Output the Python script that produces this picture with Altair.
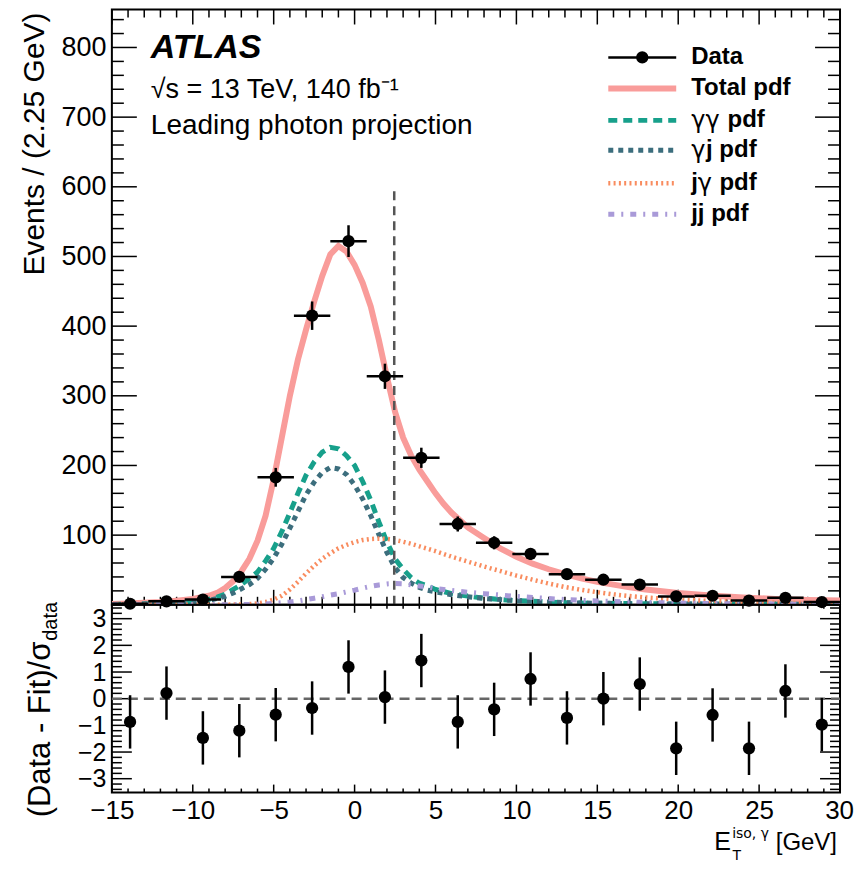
import altair as alt
import pandas as pd

# ---------------- data ----------------
BIN_CENTERS = [-13.875, -11.625, -9.375, -7.125, -4.875, -2.625, -0.375, 1.875, 4.125, 6.375,
               8.625, 10.875, 13.125, 15.375, 17.625, 19.875, 22.125, 24.375, 26.625, 28.875]
BIN_WIDTH = 2.25
DATA_EVENTS = [1.5, 5, 7.6, 40, 183, 415, 522, 328, 211, 116,
               89, 73, 44, 36, 29, 12, 13, 6, 10, 4]
DATA_ERRORS = [1.2, 2.2, 2.8, 6.3, 13.5, 20.4, 22.8, 18.1, 14.5, 10.8,
               9.4, 8.5, 6.6, 6.0, 5.4, 3.5, 3.6, 2.4, 3.2, 2.0]
PULLS = [-0.87, 0.21, -1.47, -1.2, -0.6, -0.35, 1.19, 0.06, 1.43, -0.87,
         -0.4, 0.74, -0.72, 0.0, 0.55, -1.86, -0.61, -1.86, 0.29, -0.97]
PULL_ERRORS = [1, 1, 1, 1, 1, 1, 1, 1, 1, 1, 1, 1, 1, 1, 1, 1, 1, 1, 1, 1]

CURVE_X = [-15, -14, -13, -12, -11, -10, -9,
           -8.5, -8, -7.5, -7, -6.5, -6, -5.5, -5, -4.5, -4, -3.5, -3, -2.5, -2, -1.5, -1, -0.5,
           0, 0.5, 1, 1.5, 2, 2.5, 3, 3.5, 4, 4.5, 5, 5.5, 6,
           7, 8, 9, 10, 11, 12, 13, 14, 15, 16, 17, 18,
           20, 22, 24, 26, 28, 30]
TOTAL_PDF = [1, 1.8, 2.8, 4, 6, 8.5, 13,
             17, 24, 34, 48, 66, 92, 128, 180, 240, 300, 352, 395, 435, 472, 503, 515, 507,
             488, 462, 428, 380, 327, 277, 240, 214, 194, 177, 160, 145, 132,
             111, 96, 81, 69, 59, 51, 44, 38, 33, 29, 25, 22,
             17, 13.5, 10.5, 8.5, 7, 6]
GG_PDF = [0.5, 0.8, 1.2, 2, 3, 4.5, 8,
          11, 15, 22, 29, 38, 47, 63, 81, 105, 132, 160, 186, 205, 219, 226, 224, 214,
          200, 177, 150, 119, 90, 66, 51, 39, 31, 27, 22, 19, 16,
          12.5, 9.5, 7.5, 6, 5, 4, 3, 2.5, 2.2, 2, 1.7, 1.5,
          1.2, 1, 0.8, 0.7, 0.6, 0.5]
GJ_PDF = [0.4, 0.7, 1, 1.6, 2.5, 4, 6.5,
          9, 12, 17, 23, 29, 38, 51, 67, 87, 110, 134, 158, 176, 190, 197, 195, 187,
          172, 152, 128, 101, 75, 53, 39, 31, 25, 21, 18.5, 16.5, 14.5,
          11.5, 9, 7.5, 6, 5, 4, 3.2, 2.6, 2.3, 2, 1.7, 1.5,
          1.2, 1, 0.8, 0.7, 0.6, 0.5]
JG_PDF = [0, 0, 0, 0, 0, 0, 0.1,
          0.1, 0.2, 0.3, 0.5, 1, 2, 4, 7.5, 13, 22, 33, 45, 56, 66, 74, 81, 86,
          90, 93, 94.5, 95, 94.5, 93, 90.5, 87.5, 84, 80.5, 77, 73, 69,
          62, 55, 48.5, 42, 36, 30.5, 25.5, 21.5, 18, 15, 12.5, 10.5,
          7.5, 5.5, 4.2, 3.2, 2.5, 2]
JJ_PDF = [0, 0, 0, 0, 0, 0, 0,
          0, 0, 0.1, 0.3, 0.5, 0.8, 1.3, 2, 3, 4, 5.5, 7.5, 9.5, 11.5, 14, 16, 18.5,
          21, 24, 26.5, 28.5, 30, 30.5, 30, 28.5, 27, 25.5, 23.5, 22, 20.5,
          18, 16, 14, 12, 10.5, 9, 7.5, 6.5, 5.5, 4.7, 4, 3.4,
          2.5, 1.9, 1.4, 1.1, 0.8, 0.6]

ISO_CUT = [2.45]
ISO_CUT_TOP = [600]

X_MAJOR = [-15, -10, -5, 0, 5, 10, 15, 20, 25, 30]
X_LABELS = [-15, -10, -5, 0, 5, 10, 15, 20, 25]   # the last label ("30") is drawn as text
X_LAST_LABEL = "30"
X_MINOR = [v for v in range(-15, 31) if v % 5 != 0]
Y_UP_LABELS = [100, 200, 300, 400, 500, 600, 700, 800]
Y_UP_MAJOR = [0, 100, 200, 300, 400, 500, 600, 700, 800]
Y_UP_MINOR = [v for v in range(0, 855, 20) if v % 100 != 0]
Y_LOW_MAJOR = [-3, -2, -1, 0, 1, 2, 3]
Y_LOW_MINOR = [-3.4, -3.2, -2.8, -2.6, -2.4, -2.2, -1.8, -1.6, -1.4, -1.2, -0.8, -0.6, -0.4, -0.2,
               0.2, 0.4, 0.6, 0.8, 1.2, 1.4, 1.6, 1.8, 2.2, 2.4, 2.6, 2.8, 3.2, 3.4]

# legend labels as (text, is_greek) segments
LEGEND_LABELS = [
    [("Data", False)],
    [("Total pdf", False)],
    [("γγ", True), (" pdf", False)],
    [("γ", True), ("j pdf", False)],
    [("j", False), ("γ", True), (" pdf", False)],
    [("jj pdf", False)],
]

# ---------------- styling ----------------
FONT = "Liberation Sans"
GREEK_FONT = "DejaVu Sans"
W, H_UP, H_LOW = 729, 596, 188
C_TOTAL, C_GG, C_GJ, C_JG, C_JJ = "#f99c9a", "#17a08b", "#3c6e7d", "#f98c5f", "#a99ad8"

xs = alt.Scale(domain=[-15, 30], nice=False, zero=False)
ys_up = alt.Scale(domain=[0, 854.5], nice=False, zero=False)
ys_low = alt.Scale(domain=[-3.52, 3.52], nice=False, zero=False)

common_ax = dict(labelFont=FONT, ticks=False, tickSize=0,
                 domain=False, grid=False, title=None, labelFlush=False, labelColor="black",
                 labelOverlap=False)
ax_up_y = alt.Axis(values=Y_UP_LABELS, labelFontSize=27, labelPadding=6, **common_ax)
ax_low_y = alt.Axis(values=Y_LOW_MAJOR, format="d", labelFontSize=25, labelPadding=6, **common_ax)
ax_low_x = alt.Axis(values=X_LABELS, labelFontSize=26, labelPadding=5, **common_ax)

one = pd.DataFrame({"a": [0]})

data_df = pd.DataFrame({"x": BIN_CENTERS, "y": DATA_EVENTS, "err": DATA_ERRORS})
data_df["xlo"] = data_df["x"] - BIN_WIDTH / 2
data_df["xhi"] = data_df["x"] + BIN_WIDTH / 2
data_df["ylo"] = data_df["y"] - data_df["err"]
data_df["yhi"] = data_df["y"] + data_df["err"]

pull_df = pd.DataFrame({"x": BIN_CENTERS, "p": PULLS, "e": PULL_ERRORS})
pull_df["lo"] = pull_df["p"] - pull_df["e"]
pull_df["hi"] = pull_df["p"] + pull_df["e"]

curve_df = pd.DataFrame({"x": CURVE_X, "total": TOTAL_PDF, "gg": GG_PDF, "gj": GJ_PDF,
                         "jg": JG_PDF, "jj": JJ_PDF})


def XU(field="x"):
    return alt.X(f"{field}:Q", scale=xs, axis=None)


def YU(field):
    return alt.Y(f"{field}:Q", scale=ys_up, axis=ax_up_y)


def curve(col, color, width, dash=None):
    kw = dict(color=color, strokeWidth=width, clip=True)
    if dash:
        kw["strokeDash"] = dash
    return alt.Chart(curve_df).mark_line(**kw).encode(x=XU(), y=YU(col))


STYLES = {
    "total": (C_TOTAL, 6, None),
    "gg": (C_GG, 5, [9, 6]),
    "gj": (C_GJ, 5, [5, 5]),
    "jg": (C_JG, 4.5, [2, 3.3]),
    "jj": (C_JJ, 5, [6, 7, 2, 7]),
}


def ticks_x(values, length, top, height, axis=None):
    df = pd.DataFrame({"v": values})
    if top:
        y0, y1 = 0, length
    else:
        y0, y1 = height, height - length
    return alt.Chart(df).mark_rule(color="black", strokeWidth=1.5).encode(
        x=alt.X("v:Q", scale=xs, axis=axis), y=alt.value(y0), y2=alt.value(y1))


def ticks_y(values, length, right, scale, axis):
    df = pd.DataFrame({"v": values})
    if right:
        x0, x1 = W - length, W
    else:
        x0, x1 = 0, length
    return alt.Chart(df).mark_rule(color="black", strokeWidth=1.5).encode(
        y=alt.Y("v:Q", scale=scale, axis=axis), x=alt.value(x0), x2=alt.value(x1))


def text(t, x, y, size, weight="normal", style="normal", align="left", angle=0,
         baseline="alphabetic", font=FONT):
    kw = dict(text=t, font=font, fontSize=size, fontWeight=weight, fontStyle=style,
              align=align, baseline=baseline, color="black")
    if angle:
        kw["angle"] = angle
    return alt.Chart(one).mark_text(**kw).encode(x=alt.value(x), y=alt.value(y))


# ---------------- upper panel ----------------
up_layers = [
    ticks_y(Y_UP_MAJOR, 25, False, ys_up, ax_up_y),
    ticks_y(Y_UP_MINOR, 12, False, ys_up, ax_up_y),
    ticks_y(Y_UP_MAJOR, 25, True, ys_up, ax_up_y),
    ticks_y(Y_UP_MINOR, 12, True, ys_up, ax_up_y),
    ticks_x(X_MAJOR, 15, False, H_UP),
    ticks_x(X_MINOR, 8, False, H_UP),
    ticks_x(X_MAJOR, 15, True, H_UP),
    ticks_x(X_MINOR, 8, True, H_UP),
]
for key in ["total", "gg", "gj", "jg", "jj"]:
    c, w, d = STYLES[key]
    up_layers.append(curve(key, c, w, d))

iso_df = pd.DataFrame({"x": ISO_CUT, "top": ISO_CUT_TOP, "bottom": [0]})
up_layers.append(alt.Chart(iso_df).mark_rule(color="#555555", strokeWidth=2.5, strokeDash=[9, 6]).encode(
    x=XU(), y=YU("bottom"), y2="top:Q"))

up_layers += [
    alt.Chart(data_df).mark_rule(color="black", strokeWidth=2.5).encode(x=XU(), y=YU("ylo"), y2="yhi:Q"),
    alt.Chart(data_df).mark_rule(color="black", strokeWidth=2.5).encode(x=XU("xlo"), x2="xhi:Q", y=YU("y")),
    alt.Chart(data_df).mark_circle(color="black", opacity=1, size=150).encode(x=XU(), y=YU("y")),
]

# annotations
up_layers += [
    text("ATLAS", 39, 49, 34, weight="bold", style="italic"),
    text("√s = 13 TeV, 140 fb⁻¹", 39, 89, 27),
    text("Leading photon projection", 39, 125, 28),
    text("Events / (2.25 GeV)", -68, 3, 30, align="right", angle=270),
]

# legend
LEG_Y = [48, 79, 111, 141, 174, 205]
LX0, LX1, LXT = 497, 565, 580
LEG_SIZE = 24
CHAR_W = {"γ": 0.62, "j": 0.278, " ": 0.278, "p": 0.611, "d": 0.611, "f": 0.333}
leg_styles = [("black", 2.5, None), STYLES["total"], STYLES["gg"], STYLES["gj"], STYLES["jg"], STYLES["jj"]]
for segs, yy, (c, w, d) in zip(LEGEND_LABELS, LEG_Y, leg_styles):
    kw = dict(color=c, strokeWidth=w)
    if d:
        kw["strokeDash"] = d
    up_layers.append(alt.Chart(one).mark_rule(**kw).encode(
        x=alt.value(LX0), x2=alt.value(LX1), y=alt.value(yy)))
    xpos = LXT
    for s, greek in segs:
        # leading spaces collapse in SVG text: advance the position instead
        while s.startswith(" "):
            xpos += CHAR_W[" "] * LEG_SIZE
            s = s[1:]
        if greek:
            up_layers.append(text(s, xpos, yy + 1, LEG_SIZE, baseline="middle", font=GREEK_FONT))
        else:
            up_layers.append(text(s, xpos, yy, LEG_SIZE, weight="bold", baseline="middle"))
        xpos += sum(CHAR_W.get(ch, 0.6) for ch in s) * LEG_SIZE
up_layers.append(alt.Chart(one).mark_circle(color="black", opacity=1, size=150).encode(
    x=alt.value((LX0 + LX1) / 2), y=alt.value(LEG_Y[0])))

upper = alt.layer(*up_layers).properties(width=W, height=H_UP)


# ---------------- lower panel ----------------
def XL(field="x"):
    return alt.X(f"{field}:Q", scale=xs, axis=ax_low_x)


def YL(field):
    return alt.Y(f"{field}:Q", scale=ys_low, axis=ax_low_y)


zero_df = pd.DataFrame({"y": [0], "x0": [-15], "x1": [30]})
low_layers = [
    ticks_y(Y_LOW_MAJOR, 20, False, ys_low, ax_low_y),
    ticks_y(Y_LOW_MINOR, 10, False, ys_low, ax_low_y),
    ticks_y(Y_LOW_MAJOR, 20, True, ys_low, ax_low_y),
    ticks_y(Y_LOW_MINOR, 10, True, ys_low, ax_low_y),
    ticks_x(X_MAJOR, 8, False, H_LOW, ax_low_x),
    ticks_x(X_MINOR, 4, False, H_LOW, ax_low_x),
    ticks_x(X_MAJOR, 8, True, H_LOW, ax_low_x),
    ticks_x(X_MINOR, 4, True, H_LOW, ax_low_x),
    alt.Chart(zero_df).mark_rule(color="#666666", strokeWidth=2.5, strokeDash=[10, 6]).encode(
        x=XL("x0"), x2="x1:Q", y=YL("y")),
    alt.Chart(pull_df).mark_rule(color="black", strokeWidth=2.5).encode(x=XL(), y=YL("lo"), y2="hi:Q"),
    alt.Chart(pull_df).mark_circle(color="black", opacity=1, size=150).encode(x=XL(), y=YL("p")),
    # last x tick label, right-aligned so that it is centred on the axis end
    text(X_LAST_LABEL, W + 14, H_LOW + 5, 26, align="right", baseline="top"),
    # y title with subscript
    text("(Data - Fit)/σ", -62, 37, 31, align="right", angle=270),
    text("data", -55, 36, 20, align="left", angle=270),
    # x title with sub/superscript
    text("E", 603, 245, 25),
    text("iso, γ", 621, 233, 14, font=GREEK_FONT),
    text("T", 621, 255, 15),
    text("[GeV]", 726, 245, 24, align="right"),
]
lower = alt.layer(*low_layers).properties(width=W, height=H_LOW)

chart = alt.vconcat(upper, lower, spacing=0, bounds="flush").properties(
    padding={"left": 11, "top": -1, "right": 0, "bottom": 0}
).configure_view(stroke="black", strokeWidth=2)

chart.save("out.html", embed_options={"renderer": "svg", "actions": False})
